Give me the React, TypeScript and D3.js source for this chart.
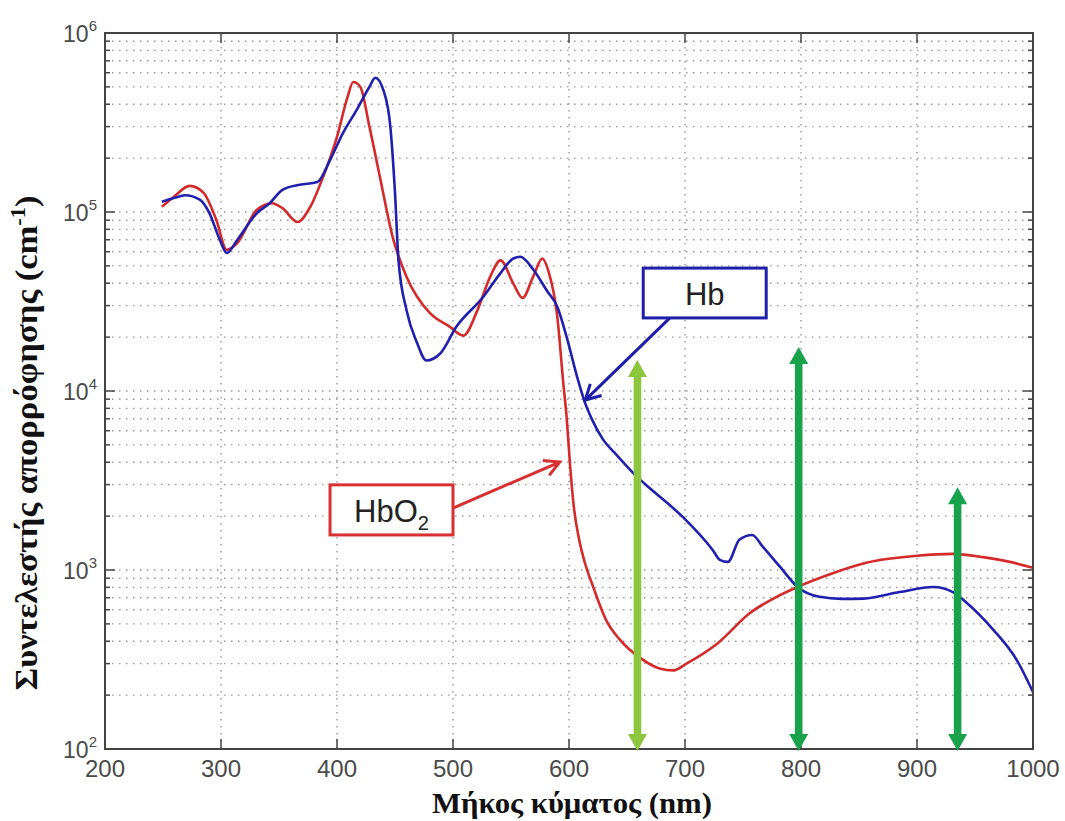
import React from "react";
import * as d3 from "d3";

// Hb (deoxy) absorption
const hbNm = [249, 260, 269, 282, 290, 299, 305, 314, 331, 342, 353, 368, 383, 394, 405, 417, 428, 433, 440, 446, 450, 453, 460, 469, 477, 489, 503, 526, 540, 552, 558, 569, 581, 590, 598, 607, 613, 620, 629, 641, 659, 670, 698, 724, 730, 737, 747, 758, 767, 782, 797, 816, 835, 854, 885, 914, 931, 943, 966, 986, 1000];
const hbVal = [114000, 120000, 124000, 117000, 98600, 69800, 59000, 69800, 98600, 112000, 133000, 142000, 147000, 195000, 275000, 372000, 501000, 562000, 479000, 299000, 128000, 53700, 28200, 18600, 14800, 16200, 22900, 33500, 44700, 55000, 56200, 47900, 36300, 29500, 20000, 12000, 8900, 6900, 5400, 4400, 3300, 2850, 1980, 1290, 1140, 1110, 1480, 1570, 1350, 1040, 804, 708, 690, 692, 753, 804, 753, 655, 462, 314, 208];

// HbO2 (oxy) absorption
const hbo2Nm = [249, 259, 273, 285, 296, 305, 314, 331, 344, 353, 366, 377, 388, 400, 409, 414, 420, 428, 437, 448, 460, 480, 497, 509, 521, 532, 541, 552, 560, 569, 577, 582, 590, 595, 598, 601, 604, 609, 614, 621, 632, 644, 661, 678, 690, 702, 728, 756, 779, 797, 828, 857, 900, 931, 957, 980, 1000];
const hbo2Val = [107000, 121000, 140000, 128000, 90200, 61400, 67100, 103000, 112000, 105000, 87900, 107000, 157000, 263000, 437000, 532000, 501000, 299000, 157000, 72400, 43400, 27300, 22900, 20400, 28200, 43400, 53700, 39800, 33100, 43400, 55000, 47400, 25700, 11200, 7080, 3800, 2300, 1450, 1080, 800, 525, 407, 324, 282, 275, 302, 389, 575, 708, 804, 962, 1100, 1200, 1230, 1180, 1110, 1030];

const xTicks = [200, 300, 400, 500, 600, 700, 800, 900, 1000];
const yExponents = [2, 3, 4, 5, 6];

// wavelength markers (double arrows): nm, top value, colour
const markerNm = [659, 798, 935];
const markerTop = [14900, 17600, 2900];
const markerColor = ["#8cc63e", "#19a24c", "#19a24c"];

// label boxes in data units: [nm0, nm1], [valTop, valBottom]
const hbBoxNm = [664, 770];
const hbBoxVal = [48600, 25600];
const hbArrowNm = [687, 614];
const hbArrowVal = [25600, 8900];
const hbo2BoxNm = [394, 500];
const hbo2BoxVal = [2990, 1570];
const hbo2ArrowNm = [500, 592];
const hbo2ArrowVal = [2220, 4010];

const W = 1065;
const H = 821;
const L = 105, R = 1033, T = 33, B = 749;

const x = d3.scaleLinear().domain([200, 1000]).range([L, R]);
const y = d3.scaleLog().domain([100, 1e6]).range([B, T]);

const line = d3
  .line<[number, number]>()
  .x((d) => x(d[0]))
  .y((d) => y(d[1]))
  .curve(d3.curveMonotoneX);

const gridColor = "#999";
const sans = "'Liberation Sans', Arial, sans-serif";
const serif = "'Liberation Serif', 'Times New Roman', serif";

function openArrow(x0: number, y0: number, x1: number, y1: number, len: number) {
  const a = Math.atan2(y1 - y0, x1 - x0);
  const s = 0.5;
  const p1 = [x1 - len * Math.cos(a - s), y1 - len * Math.sin(a - s)];
  const p2 = [x1 - len * Math.cos(a + s), y1 - len * Math.sin(a + s)];
  return `M${x0},${y0}L${x1},${y1}M${p1[0]},${p1[1]}L${x1},${y1}L${p2[0]},${p2[1]}`;
}

const App = () => {
  const yAll = y.ticks();
  const yGrid = yAll.filter((v) => v > 100 && v < 1e6);
  const isMajor = (v: number) => Math.abs(Math.log10(v) - Math.round(Math.log10(v))) < 1e-6;

  const hbData = hbNm.map((n, i) => [n, hbVal[i]] as [number, number]);
  const hbo2Data = hbo2Nm.map((n, i) => [n, hbo2Val[i]] as [number, number]);

  return (
    <svg
      width={W}
      height={H}
      style={{ position: "absolute", left: 0, top: 0, background: "#fff" }}
    >
      <rect x={0} y={0} width={W} height={H} fill="#fff" />

      {/* grid */}
      <g stroke={gridColor} strokeWidth={1.4} strokeDasharray="1.5 5.5">
        {yGrid.map((v) => (
          <line key={"h" + v} x1={L} x2={R} y1={y(v)} y2={y(v)} />
        ))}
        {xTicks.slice(1, -1).map((v) => (
          <line key={"v" + v} x1={x(v)} x2={x(v)} y1={T} y2={B} />
        ))}
      </g>

      {/* ticks */}
      <g stroke="#444" strokeWidth={1.5}>
        {yAll.map((v) => {
          const len = isMajor(v) ? 10 : 5;
          return (
            <g key={"t" + v}>
              <line x1={L} x2={L + len} y1={y(v)} y2={y(v)} />
              <line x1={R} x2={R - len} y1={y(v)} y2={y(v)} />
            </g>
          );
        })}
        {xTicks.map((v) => (
          <g key={"xt" + v}>
            <line x1={x(v)} x2={x(v)} y1={B} y2={B - 10} />
            <line x1={x(v)} x2={x(v)} y1={T} y2={T + 10} />
          </g>
        ))}
      </g>

      {/* curves */}
      <path d={line(hbo2Data) || ""} fill="none" stroke="#d42a2a" strokeWidth={2.6} strokeLinejoin="round" />
      <path d={line(hbData) || ""} fill="none" stroke="#2020b0" strokeWidth={2.6} strokeLinejoin="round" />

      {/* frame */}
      <rect x={L} y={T} width={R - L} height={B - T} fill="none" stroke="#444" strokeWidth={2} />

      {/* tick labels */}
      <g fontFamily={sans} fill="#4a4a4a">
        {xTicks.map((v) => (
          <text key={"xl" + v} x={x(v)} y={B + 28} fontSize={24} textAnchor="middle">
            {v}
          </text>
        ))}
        {yExponents.map((e) => (
          <text key={"yl" + e} x={L - 8} y={y(Math.pow(10, e)) + 9} textAnchor="end" fontSize={23}>
            10
            <tspan fontSize={15} dy={-11}>
              {e}
            </tspan>
          </text>
        ))}
      </g>

      {/* axis titles */}
      <text
        x={572}
        y={813}
        textAnchor="middle"
        fontFamily={serif}
        fontWeight="bold"
        fontSize={30}
        textLength={280}
        lengthAdjust="spacingAndGlyphs"
        fill="#111"
      >
        Μήκος κύματος (nm)
      </text>
      <text
        transform={`translate(37,443) rotate(-90)`}
        textAnchor="middle"
        fontFamily={serif}
        fontWeight="bold"
        fontSize={31}
        textLength={495}
        lengthAdjust="spacingAndGlyphs"
        fill="#111"
      >
        Συντελεστής απορρόφησης (cm
        <tspan fontSize={20} dy={-12}>-1</tspan>
        <tspan dy={12}>)</tspan>
      </text>

      {/* wavelength double arrows */}
      {markerNm.map((n, i) => {
        const cx = x(n);
        const yTop = y(markerTop[i]);
        const yBot = B + 2;
        const hw = 9.5;
        const hl = 17;
        return (
          <g key={"m" + n} fill={markerColor[i]}>
            <rect x={cx - 3.8} y={yTop + hl - 1} width={7.6} height={yBot - yTop - 2 * hl + 2} />
            <path d={`M${cx},${yTop}L${cx + hw},${yTop + hl}L${cx - hw},${yTop + hl}Z`} />
            <path d={`M${cx},${yBot}L${cx + hw},${yBot - hl}L${cx - hw},${yBot - hl}Z`} />
          </g>
        );
      })}

      {/* Hb label */}
      <path
        d={openArrow(x(hbArrowNm[0]), y(hbArrowVal[0]), x(hbArrowNm[1]), y(hbArrowVal[1]), 17)}
        fill="none"
        stroke="#1e1ea8"
        strokeWidth={3}
      />
      <rect
        x={x(hbBoxNm[0])}
        y={y(hbBoxVal[0])}
        width={x(hbBoxNm[1]) - x(hbBoxNm[0])}
        height={y(hbBoxVal[1]) - y(hbBoxVal[0])}
        fill="#fff"
        stroke="#1e1ea8"
        strokeWidth={3}
      />
      <text
        x={(x(hbBoxNm[0]) + x(hbBoxNm[1])) / 2}
        y={y(hbBoxVal[1]) - 13}
        textAnchor="middle"
        fontFamily={sans}
        fontSize={31}
        fill="#222"
      >
        Hb
      </text>

      {/* HbO2 label */}
      <path
        d={openArrow(x(hbo2ArrowNm[0]), y(hbo2ArrowVal[0]), x(hbo2ArrowNm[1]), y(hbo2ArrowVal[1]), 17)}
        fill="none"
        stroke="#d83030"
        strokeWidth={3}
      />
      <rect
        x={x(hbo2BoxNm[0])}
        y={y(hbo2BoxVal[0])}
        width={x(hbo2BoxNm[1]) - x(hbo2BoxNm[0])}
        height={y(hbo2BoxVal[1]) - y(hbo2BoxVal[0])}
        fill="#fff"
        stroke="#d83030"
        strokeWidth={3}
      />
      <text
        x={(x(hbo2BoxNm[0]) + x(hbo2BoxNm[1])) / 2}
        y={y(hbo2BoxVal[1]) - 13}
        textAnchor="middle"
        fontFamily={sans}
        fontSize={31}
        fill="#222"
      >
        HbO
        <tspan fontSize={20} dy={8}>2</tspan>
      </text>
    </svg>
  );
};

export default App;
